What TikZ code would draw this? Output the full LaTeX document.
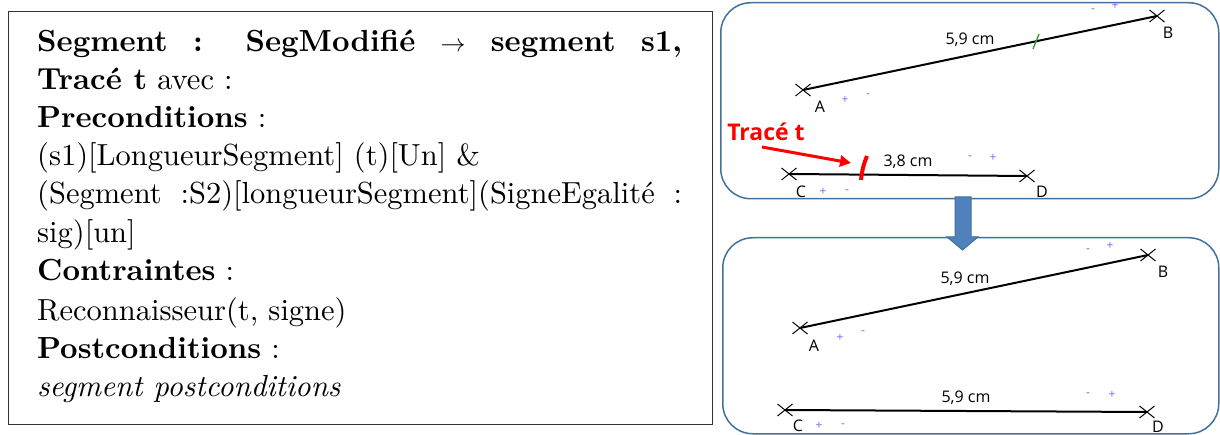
\documentclass[tikz,border=0pt]{standalone}
\usepackage{fontspec}
\setmainfont{lmroman10-regular.otf}[BoldFont=lmroman10-bold.otf, ItalicFont=lmroman10-italic.otf, BoldItalicFont=lmroman10-bolditalic.otf]
\newfontfamily\lab{Open Sans}
\usetikzlibrary{shapes.misc,arrows.meta}
\definecolor{boxline}{HTML}{41719C}
\definecolor{arrfill}{HTML}{4F81BD}
\definecolor{signblue}{HTML}{6A6AFF}
\definecolor{tickgreen}{HTML}{2E9B2E}
\tikzset{
 frame/.style={draw=boxline, line width=1.5pt, rounded corners=30pt, inner sep=0pt},
 xmark/.style={draw, cross out, minimum width=14pt, minimum height=11pt, inner sep=0pt, line width=1pt},
 seg/.style={line width=2pt},
 lbl/.style={font=\lab\fontsize{16}{16}\selectfont, inner sep=0pt},
 sg/.style={font=\lab\fontsize{12}{12}\selectfont, text=signblue, inner sep=0pt},
 ln/.style={anchor=base west, inner sep=0pt, font=\fontsize{30.5}{35}\selectfont},
}
\begin{document}
\begin{tikzpicture}[x=1pt,y=-1pt]
\useasboundingbox (0,0) rectangle (1220,435);
% left specification box
\node (spec) [draw=black!80, line width=1.2pt, anchor=north west, minimum width=704pt, minimum height=413pt, inner sep=0pt] at (8,11) {};
\node (l1) [ln] at (37,52) {\makebox[645pt][s]{\textbf{Segment : SegModifié $\rightarrow$ segment s1,}}};
\node (l2) [ln] at (37,90) {\textbf{Tracé t} avec :};
\node (l3) [ln] at (37,128) {\textbf{Preconditions} :};
\node (l4) [ln] at (37,166) {(s1)[LongueurSegment] (t)[Un] \&};
\node (l5) [ln] at (37,204) {\makebox[645pt][s]{(Segment :S2)[longueurSegment](SigneEgalité :}};
\node (l6) [ln] at (37,243) {sig)[un]};
\node (l7) [ln] at (37,281) {\textbf{Contraintes} :};
\node (l8) [ln] at (37,320) {Reconnaisseur(t, signe)};
\node (l9) [ln] at (37,358) {\textbf{Postconditions} :};
\node (l10) [ln] at (37,396) {\textit{segment postconditions}};
% right boxes
\node (top) [frame, anchor=north west, minimum width=498pt, minimum height=196pt] at (720,2) {};
\node (bot) [frame, anchor=north west, minimum width=496pt, minimum height=196pt] at (722,237) {};
% top box content
\node (A1) [xmark] at (803,90) {};
\node (B1) [xmark] at (1157,16) {};
\draw[seg] (A1.center) -- (B1.center);
\node (lab1) [lbl] at (970,40) {5,9 cm};
\node (la1) [lbl] at (820,107) {A};
\node (lb1) [lbl] at (1168,33) {B};
\draw[tickgreen, line width=1.3pt] (1033,49) -- (1039,34);
\node (s1) [sg] at (1093,11) {-};
\node (s2) [sg] at (1115,6) {+};
\node (s3) [sg] at (845,100) {+};
\node (s4) [sg] at (868,96) {-};
\node (C1) [xmark] at (789,174) {};
\node (D1) [xmark] at (1027,176) {};
\draw[seg] (C1.center) -- (D1.center);
\node (lab2) [lbl] at (908,162) {3,8 cm};
\node (s5) [sg] at (970,158) {-};
\node (s6) [sg] at (993,158) {+};
\node (lc1) [lbl] at (801,192) {C};
\node (s7) [sg] at (823,192) {+};
\node (s8) [sg] at (847,192) {-};
\node (ld1) [lbl] at (1042,192) {D};
\node (trace) [font=\lab\bfseries\fontsize{23}{23}\selectfont, text=red, inner sep=0pt] at (766,132) {Tracé t};
\coordinate (rs) at (762,147);
\coordinate (re) at (851,163);
\draw[red, line width=3pt, -{Triangle[length=11pt,width=11pt]}] (rs) -- (re);
\draw[red, line width=4pt] (867,156) .. controls (864,163) and (862,170) .. (861,180);
% bottom box content
\node (A2) [xmark] at (800,328) {};
\node (B2) [xmark] at (1148,255) {};
\draw[seg] (A2.center) -- (B2.center);
\node (lab3) [lbl] at (965,279) {5,9 cm};
\node (la2) [lbl] at (814,346) {A};
\node (lb2) [lbl] at (1163,272) {B};
\node (s9) [sg] at (840,338) {+};
\node (s10) [sg] at (863,333) {-};
\node (s11) [sg] at (1088,251) {-};
\node (s12) [sg] at (1110,246) {+};
\node (C2) [xmark] at (785,410) {};
\node (D2) [xmark] at (1147,412) {};
\draw[seg] (C2.center) -- (D2.center);
\node (lab4) [lbl] at (966,398) {5,9 cm};
\node (s13) [sg] at (1088,395) {-};
\node (s14) [sg] at (1112,395) {+};
\node (lc2) [lbl] at (798,426) {C};
\node (s15) [sg] at (819,426) {+};
\node (s16) [sg] at (843,426) {-};
\node (ld2) [lbl] at (1158,427) {D};
% block arrow
\draw[fill=arrfill, draw=boxline, line width=1pt] (955,197) -- (971,197) -- (971,237) -- (978,237) -- (962.5,250) -- (947,237) -- (955,237) -- cycle;
\end{tikzpicture}
\end{document}
